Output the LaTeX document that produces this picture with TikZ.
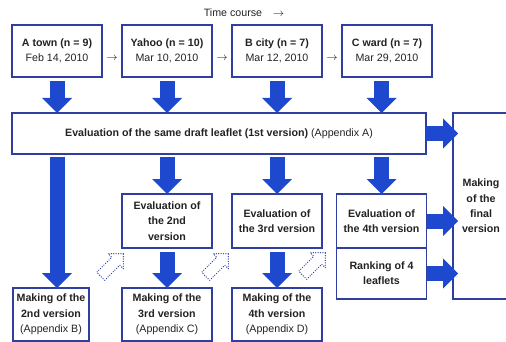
\documentclass[tikz,border=0pt]{standalone}
\usepackage{fontspec}
\setmainfont{Liberation Sans}
\usetikzlibrary{positioning,arrows.meta,shapes.arrows}
\definecolor{arrowblue}{RGB}{30,72,205}
\definecolor{edgeblue}{RGB}{48,62,160}
\definecolor{ink}{RGB}{35,35,35}
\tikzset{stage/.style={draw=edgeblue, line width=.8pt, fill=white, align=center, inner sep=0pt, outer sep=0pt, text=ink, font=\fontsize{8}{11.5}\selectfont, minimum width=67.5pt, minimum height=39pt},
  flow/.style={draw=arrowblue, line width=11.25pt, -{Triangle[width=22.5pt, length=11.25pt, line width=0pt]}, shorten <=3pt},
  ghost/.style={single arrow, draw=edgeblue, line width=1pt, line cap=round, dash pattern=on 0pt off 1.8pt, inner sep=3.75pt, single arrow head extend=3.75pt, minimum height=24pt, rotate=45}}

\begin{document}
\begin{tikzpicture}[x=0.75pt, y=-0.75pt]
    \useasboundingbox (0,0) rectangle (506,342);
    \node[text=ink, font=\fontsize{8}{10}\selectfont] (time) at (244,13) {Time course\quad$\rightarrow$};
    % the four sites, in time order
    \node[stage] (town) at (57,51) {\textbf{A town (n = 9)}\\Feb 14, 2010};
    \node[stage, right=15pt of town] (yahoo) {\textbf{Yahoo (n = 10)}\\Mar 10, 2010};
    \node[stage, right=15pt of yahoo] (bcity) {\textbf{B city (n = 7)}\\Mar 12, 2010};
    \node[stage, right=15pt of bcity] (cward) {\textbf{C ward (n = 7)}\\Mar 29, 2010};
    \node[text=ink, font=\fontsize{8}{10}\selectfont] (then1) at (112,58) {$\rightarrow$};
    \node[text=ink, font=\fontsize{8}{10}\selectfont] (then2) at (222,58) {$\rightarrow$};
    \node[text=ink, font=\fontsize{8}{10}\selectfont] (then3) at (332,58) {$\rightarrow$};
    \node[stage, minimum width=310.5pt, minimum height=30.75pt] (eval) at (219,133.5) {\textbf{Evaluation of the same draft leaflet (1st version)} (Appendix A)};
    \node[stage, font=\fontsize{8}{11.5}\selectfont\bfseries, minimum width=42pt, minimum height=139.5pt] (final) at (481,206) {Making\\of the\\final\\version};
    % second round
    \node[stage, font=\fontsize{8}{11.5}\selectfont\bfseries, minimum height=40.5pt] (eval2) at (167,221) {Evaluation of\\the 2nd\\version};
    \node[stage, font=\fontsize{8}{11.5}\selectfont\bfseries, minimum height=40.5pt] (eval3) at (277,221) {Evaluation of\\the 3rd version};
    \node[stage, font=\fontsize{8}{11.5}\selectfont\bfseries, minimum height=40.5pt] (eval4) at (381.5,221) {Evaluation of\\the 4th version};
    \node[stage, font=\fontsize{8}{11.5}\selectfont\bfseries, minimum height=38.25pt, below=0pt of eval4] (ranking) {Ranking of 4\\leaflets};
    \node[stage, minimum width=57pt, minimum height=39.75pt] (make2) at (51,314.5) {\textbf{Making of the}\\\textbf{2nd version}\\(Appendix B)};
    \node[stage, minimum height=39.75pt] (make3) at (167,314.5) {\textbf{Making of the}\\\textbf{3rd version}\\(Appendix C)};
    \node[stage, minimum height=39.75pt] (make4) at (277,314.5) {\textbf{Making of the}\\\textbf{4th version}\\(Appendix D)};
    % block arrows
    \foreach \n in {town,yahoo,bcity}
      \draw[flow] (\n.south) -- (\n.south |- eval.north);
    \draw[flow] (eval4.north |- cward.south) -- (eval4.north |- eval.north);
    \draw[flow, shorten <=2pt] (town.south |- eval.south) -- (town.south |- make2.north);
    \foreach \n in {eval2,eval3,eval4}
      \draw[flow, shorten <=2pt] (\n.north |- eval.south) -- (\n.north);
    \draw[flow] (eval2.south) -- (make3.north);
    \draw[flow] (eval3.south) -- (make4.north);
    \foreach \n in {eval,eval4,ranking}
      \draw[flow, shorten <=0pt, shorten >=-3.75pt] (\n.east) -- (final.west |- \n.east);
    % dotted feedback arrows
    \node[ghost] (back2) at (110,267) {};
    \node[ghost] (back3) at (215,267) {};
    \node[ghost] (back4) at (312,266) {};
\end{tikzpicture}
\end{document}
